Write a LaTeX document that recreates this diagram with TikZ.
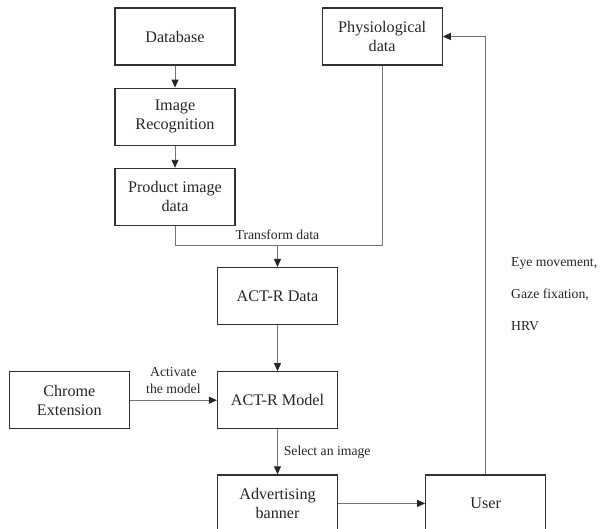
\documentclass[tikz,border=0pt]{standalone}
\usepackage{fontspec}
\setmainfont{Liberation Serif}
\usetikzlibrary{positioning, arrows.meta}

\begin{document}
\begin{tikzpicture}[
    x=0.02cm, y=-0.02cm,
    node distance=0.44cm and 1.72cm,
    box/.style={rectangle, draw=black!80, line width=0.7pt, text=black!85, minimum width=2.4cm, minimum height=1.14cm, align=center, font=\fontsize{9.2}{10.8}\selectfont},
    lbl/.style={text=black!85, font=\fontsize{7.8}{9.6}\selectfont},
    line/.style={draw=black!55, line width=0.5pt},
    arrow/.style={line, -{Triangle[length=1.6mm, width=1.4mm, color=black!85]}}
  ]
  \useasboundingbox (0,0) rectangle (602,528);

  \node[box] (db) at (175,36.5) {Database};
  \node[box, below=of db] (imgrec) {Image\\Recognition};
  \node[box, below=of imgrec] (prod) {Product image\\data};
  \node[box, right=of db] (physio) {Physiological\\data};
  \node[box] (actdata) at (277.5,296) {ACT-R Data};
  \node[box, below=0.92cm of actdata] (actmodel) {ACT-R Model};
  \node[box, left=1.74cm of actmodel] (chrome) {Chrome\\Extension};
  \node[box, below=0.9cm of actmodel] (banner) {Advertising\\banner};
  \node[box, right=1.74cm of banner] (user) {User};
  \coordinate[above=0.42cm of actdata] (join);
  \node[lbl, above=0pt of join] (transform) {Transform data};
  \node[lbl, align=left, font=\fontsize{7.8}{18.2}\selectfont, anchor=west] (signals) at (505,294) {Eye movement,\\Gaze fixation,\\HRV};

  \draw[arrow] (db) -- (imgrec);
  \draw[arrow] (imgrec) -- (prod);
  \draw[line] (prod.south) |- (join) -| (physio.south);
  \draw[arrow] (join) -- (actdata);
  \draw[arrow] (actdata) -- (actmodel);
  \draw[arrow] (chrome) -- node[lbl, above, align=center] (activate) {Activate\\the model} (actmodel);
  \draw[arrow] (actmodel) -- node[lbl, right] (select) {Select an image} (banner);
  \draw[arrow] (banner) -- (user);
  \draw[arrow] (user.north) |- (physio.east);

\end{tikzpicture}
\end{document}
